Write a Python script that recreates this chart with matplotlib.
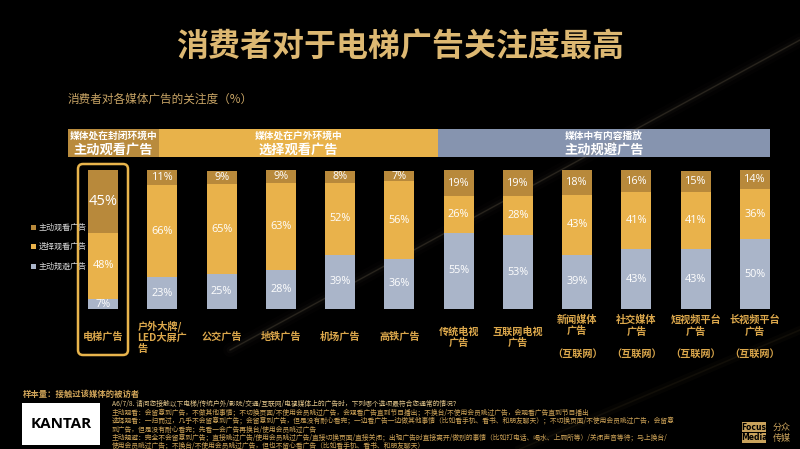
import matplotlib

matplotlib.use("Agg")
import matplotlib.pyplot as plt  # noqa: E402
import matplotlib.transforms as mtransforms  # noqa: E402
from matplotlib.patches import FancyBboxPatch, Rectangle  # noqa: E402
import numpy as np  # noqa: E402

plt.rcParams["font.family"] = ["Noto Sans CJK SC", "DejaVu Sans"]

# ---- data ----
categories = [
    "电梯广告",
    "户外大牌/\nLED大屏广\n告",
    "公交广告",
    "地铁广告",
    "机场广告",
    "高铁广告",
    "传统电视\n广告",
    "互联网电视\n广告",
    "新闻媒体\n广告\n\n（互联网）",
    "社交媒体\n广告\n\n（互联网）",
    "短视频平台\n广告\n\n（互联网）",
    "长视频平台\n广告\n\n（互联网）",
]
avoid = [7, 23, 25, 28, 39, 36, 55, 53, 39, 43, 43, 50]
selective = [48, 66, 65, 63, 52, 56, 26, 28, 43, 41, 41, 36]
active = [45, 11, 9, 9, 8, 7, 19, 19, 18, 16, 15, 14]
series_names = ["主动观看广告", "选择观看广告", "主动规避广告"]
group_small = ["媒体处在封闭环境中", "媒体处在户外环境中", "媒体中有内容播放"]
group_big = ["主动观看广告", "选择观看广告", "主动规避广告"]

C_ACTIVE = "#B8893B"
C_SELECT = "#E9B24B"
C_AVOID = "#AAB5C9"
C_GOLD = "#DCA84C"
BAND_COLORS = ["#B98B3D", "#E8B24A", "#8694AF"]

W, H = 800, 449
fig = plt.figure(figsize=(8, 4.49), dpi=100, facecolor="black")
bg = fig.add_axes([0, 0, 1, 1])
bg.set_xlim(0, W)
bg.set_ylim(H, 0)
bg.axis("off")

# faint diagonal light streak in the background
for lw, a in [(10, 0.02), (5, 0.04), (1.6, 0.08), (0.7, 0.18)]:
    bg.plot([230, 800], [350, 40], color="#9c8d70", lw=lw, alpha=a, solid_capstyle="round")
for lw, a in [(6, 0.03), (1.2, 0.08)]:
    bg.plot([520, 800], [449, 330], color="#a08550", lw=lw, alpha=a)

# title and subtitle
bg.text(400, 47, "消费者对于电梯广告关注度最高", ha="center", va="center",
        fontsize=23, fontweight="bold", color="#DDB872")
bg.text(68, 99, "消费者对各媒体广告的关注度（%）", ha="left", va="center",
        fontsize=8.4, color="#C9A566")

# group header bands
bands = [(68, 159), (159, 438), (438, 770)]
for (x0, x1), col, small, big in zip(bands, BAND_COLORS, group_small, group_big):
    bg.add_patch(Rectangle((x0, 129), x1 - x0, 28, facecolor=col, edgecolor="none"))
    xc = (x0 + x1) / 2
    bg.text(xc, 135.5, small, ha="center", va="center", fontsize=7,
            fontweight="bold", color="white")
    bg.text(xc, 149.5, big, ha="center", va="center", fontsize=9.5,
            fontweight="bold", color="white")

# highlight box around the elevator bar
bg.add_patch(FancyBboxPatch((78, 164), 50, 191,
                            boxstyle="round,pad=0,rounding_size=5",
                            facecolor="none", edgecolor="#E8B44C", lw=1.8))

# legend
for y, col, name in zip([227, 246, 266], [C_ACTIVE, C_SELECT, C_AVOID], series_names):
    bg.add_patch(Rectangle((31, y - 2.5), 5, 5, facecolor=col, edgecolor="none"))
    bg.text(39, y, name, ha="left", va="center", fontsize=5.8, color="#D8D8D8")

# ---- stacked bars ----
left_px, right_px, top_px, bot_px = 73.4, 784.6, 170, 309
ax = fig.add_axes([left_px / W, 1 - bot_px / H, (right_px - left_px) / W, (bot_px - top_px) / H])
ax.set_facecolor("none")
ax.set_xlim(-0.5, len(categories) - 0.5)
ax.set_ylim(0, 100)
ax.axis("off")

x = np.arange(len(categories))
width = 0.506
a_ = np.array(avoid)
s_ = np.array(selective)
t_ = np.array(active)
ax.bar(x, a_, width, color=C_AVOID)
ax.bar(x, s_, width, bottom=a_, color=C_SELECT)
ax.bar(x, t_, width, bottom=a_ + s_, color=C_ACTIVE)

for i in x:
    for val, base in [(a_[i], 0), (s_[i], a_[i]), (t_[i], a_[i] + s_[i])]:
        fs = 10.5 if (i == 0 and val == active[0]) else 7.8
        ax.text(i, base + val / 2, f"{val}%", ha="center", va="center",
                fontsize=fs, color="white", family=["Open Sans", "DejaVu Sans"])

# category labels
trans = mtransforms.blended_transform_factory(ax.transData, bg.transData)
for i, lab in enumerate(categories):
    bg.text(i, 337, lab, transform=trans, ha="center", va="center",
            multialignment="center" if i != 1 else "left",
            fontsize=7.3, fontweight="bold", color=C_GOLD, linespacing=1.15)

# ---- footer ----
bg.text(23, 394, "样本量：接触过该媒体的被访者", ha="left", va="center",
        fontsize=6, fontweight="bold", color="#D2A65A")
bg.add_patch(Rectangle((22, 403), 78, 42, facecolor="white", edgecolor="none"))
bg.text(61, 424, "KANTAR", ha="center", va="center", fontsize=11,
        fontweight="bold", color="black", family=["Open Sans", "DejaVu Sans"])

notes = [
    "A6/7/8. 请问您接触以下电梯/传统户外/影院/交通/互联网/电视媒体上的广告时，下列哪个选项最符合您通常的情况？",
    "主动观看：会留意到广告，不做其他事情；不切换页面/不使用会员跳过广告，会观看广告直到节目播出；不换台/不使用会员跳过广告，会观看广告直到节目播出",
    "选择观看：一扫而过，几乎不会留意到广告；会留意到广告，但是没有耐心看完；一边看广告一边做其他事情（比如看手机、看书、和朋友聊天）；不切换页面/不使用会员跳过广告，会留意",
    "到广告，但是没有耐心看完；先看一会广告再换台/使用会员跳过广告",
    "主动规避：完全不会留意到广告；直接跳过广告/使用会员跳过广告/直接切换页面/直接关闭；出现广告时直接离开/做别的事情（比如打电话、喝水、上厕所等）/关闭声音等待；马上换台/",
    "使用会员跳过广告；不换台/不使用会员跳过广告，但也不留心看广告（比如看手机、看书、和朋友聊天）",
]
for k, line in enumerate(notes):
    bg.text(112, 404 + k * 8.4, line, ha="left", va="center", fontsize=4.9,
            color="#E0C48A" if k == 0 else "#CFA458")

# Focus Media logo
bg.add_patch(Rectangle((742, 422), 24, 10, facecolor="#C9A25C", edgecolor="none"))
bg.add_patch(Rectangle((742, 433), 24, 10, facecolor="#C9A25C", edgecolor="none"))
bg.text(754, 427, "Focus", ha="center", va="center", fontsize=5.5, fontweight="bold",
        color="black", family=["DejaVu Sans"])
bg.text(754, 438, "Media", ha="center", va="center", fontsize=5.5, fontweight="bold",
        color="black", family=["DejaVu Sans"])
bg.text(782, 427, "分众", ha="center", va="center", fontsize=6.5, color="#C9A25C")
bg.text(782, 438, "传媒", ha="center", va="center", fontsize=6.5, color="#C9A25C")

fig.savefig("out.png", dpi=100, facecolor="black")
